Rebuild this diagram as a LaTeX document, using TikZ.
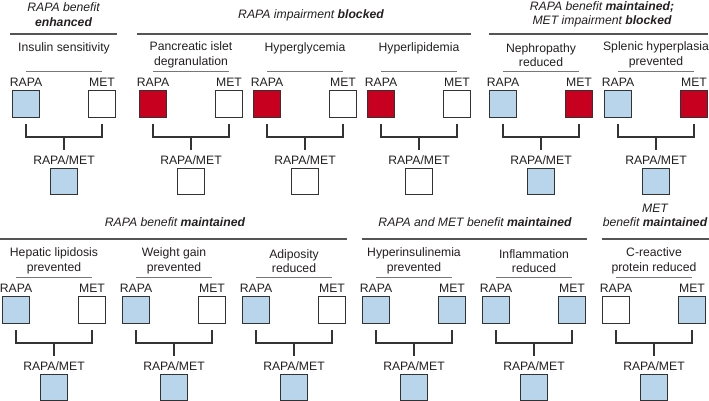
\documentclass[tikz,border=0pt]{standalone}
\usepackage{fontspec}
\setmainfont{Liberation Sans}
\definecolor{fillblue}{HTML}{B8D5EC}
\definecolor{fillred}{HTML}{C8001F}
\definecolor{ink}{HTML}{231F20}
\definecolor{edge}{HTML}{333333}
\definecolor{rule}{HTML}{555555}
\tikzset{
  txt/.style={inner sep=0pt, text=ink, font=\fontsize{12.2}{14.5}\selectfont, align=center},
  sq/.style={draw=edge, line width=1.2pt, minimum width=27.5pt, minimum height=26.5pt, inner sep=0pt, fill=#1},
  bracket/.style={draw=edge, line width=1.5pt},
  hrule/.style={draw=rule, line width=1.1pt},
  srule/.style={draw=rule!80, line width=0.9pt},
}
% #1 id, #2 cx, #3 dy, #4 label, #5 label y, #6 rapa fill, #7 met fill, #8 combo fill
\newcommand{\mypanel}[8]{%
  \node[txt] (#1L) at ({#2},{#5+#3}) {#4};
  \draw[srule] ({#2-38},{71+#3}) -- ({#2+38},{71+#3});
  \node[txt] (#1Rt) at ({#2-38},{82+#3}) {RAPA};
  \node[txt] (#1Mt) at ({#2+38},{82+#3}) {MET};
  \node[sq=#6] (#1R) at ({#2-38},{104+#3}) {};
  \node[sq=#7] (#1M) at ({#2+38},{104+#3}) {};
  \coordinate (#1J) at ({#2},{137+#3});
  \coordinate (#1K) at ({#2},{150+#3});
  \draw[bracket] ([yshift=-6pt]#1R.south) |- (#1J) -| ([yshift=-6pt]#1M.south);
  \draw[bracket] (#1J) -- (#1K);
  \node[txt] (#1Ct) at ({#2},{160+#3}) {RAPA/MET};
  \node[sq=#8] (#1C) at ({#2},{181.5+#3}) {};
}
\begin{document}
\begin{tikzpicture}[x=1pt,y=-1pt]
\useasboundingbox (0,0) rectangle (709,401);
% ---------- top row headers ----------
\node[txt] (h1) at (63.5,14.5) {\itshape RAPA benefit\\\bfseries\itshape enhanced};
\draw[hrule] (10,34) -- (117,34);
\node[txt] (h2) at (311,15) {\itshape RAPA impairment \bfseries blocked};
\draw[hrule] (137,34) -- (471,34);
\node[txt] (h3) at (602,14.5) {\itshape RAPA benefit \bfseries maintained;\\\itshape MET impairment \bfseries blocked};
\draw[hrule] (489,34) -- (708,34);
% ---------- top row panels ----------
\mypanel{a}{64}{0}{Insulin sensitivity}{48}{fillblue}{white}{fillblue}
\mypanel{b}{191}{0}{Pancreatic islet\\degranulation}{55}{fillred}{white}{white}
\mypanel{c}{305}{0}{Hyperglycemia}{48}{fillred}{white}{white}
\mypanel{d}{419}{0}{Hyperlipidemia}{48}{fillred}{white}{white}
\mypanel{e}{541}{0}{Nephropathy\\reduced}{55}{fillblue}{fillred}{fillblue}
\mypanel{f}{656}{0}{Splenic hyperplasia\\prevented}{55}{fillblue}{fillred}{fillblue}
% ---------- bottom row headers ----------
\node[txt] (h4) at (175,222) {\itshape RAPA benefit \bfseries maintained};
\draw[hrule] (0,239) -- (347,239);
\node[txt] (h5) at (475,222) {\itshape RAPA and MET benefit \bfseries maintained};
\draw[hrule] (362,239) -- (587,239);
\node[txt] (h6) at (655,215.5) {\itshape MET\\\itshape benefit \bfseries maintained};
\draw[hrule] (602,239) -- (709,239);
% ---------- bottom row panels ----------
\mypanel{g}{54}{206}{Hepatic lipidosis\\prevented}{55}{fillblue}{white}{fillblue}
\mypanel{h}{174}{206}{Weight gain\\prevented}{55}{fillblue}{white}{fillblue}
\mypanel{i}{294}{206}{Adiposity\\reduced}{55}{fillblue}{white}{fillblue}
\mypanel{j}{414}{206}{Hyperinsulinemia\\prevented}{55}{fillblue}{fillblue}{fillblue}
\mypanel{k}{534}{206}{Inflammation\\reduced}{55}{fillblue}{fillblue}{fillblue}
\mypanel{l}{654}{206}{C-reactive\\protein reduced}{55}{white}{fillblue}{fillblue}
\end{tikzpicture}
\end{document}
